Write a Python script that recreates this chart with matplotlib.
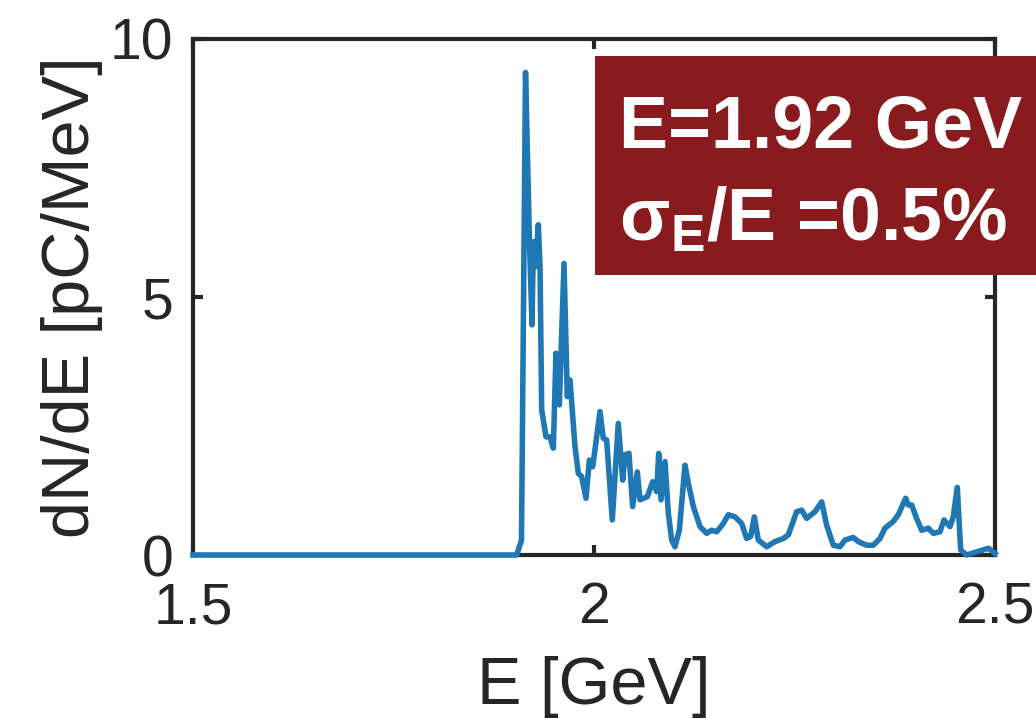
import matplotlib
matplotlib.use("Agg")
import matplotlib.pyplot as plt
from matplotlib.patches import Rectangle

plt.rcParams['font.family'] = ['Liberation Sans', 'DejaVu Sans']
plt.rcParams['mathtext.fontset'] = 'custom'
plt.rcParams['mathtext.rm'] = 'Liberation Sans:bold'
plt.rcParams['mathtext.bf'] = 'Liberation Sans:bold'
plt.rcParams['mathtext.it'] = 'Liberation Sans:bold'

energy_gev = [1.50, 1.9036, 1.9096, 1.9146, 1.9194, 1.9227, 1.9244, 1.9270, 1.9306, 1.9327,
              1.9348, 1.9402, 1.9451, 1.9493, 1.9526, 1.9568, 1.9626, 1.9667, 1.9701, 1.9763,
              1.9805, 1.9846, 1.9900, 1.9942, 1.9984, 2.0075, 2.0116, 2.0158, 2.0228, 2.0303,
              2.0358, 2.0387, 2.0436, 2.0482, 2.0540, 2.0574, 2.0665, 2.0732, 2.0782, 2.0807,
              2.0836, 2.0885, 2.0927, 2.0969, 2.1010, 2.1064, 2.1135, 2.1176, 2.1239, 2.1322,
              2.1405, 2.1467, 2.1530, 2.1612, 2.1675, 2.1758, 2.1842, 2.1904, 2.1954, 2.1999,
              2.2049, 2.2153, 2.2257, 2.2361, 2.2423, 2.2527, 2.2589, 2.2652, 2.2756, 2.2839,
              2.2901, 2.2984, 2.3067, 2.3130, 2.3233, 2.3296, 2.3400, 2.3483, 2.3566, 2.3628,
              2.3732, 2.3794, 2.3886, 2.3919, 2.3961, 2.4023, 2.4086, 2.4169, 2.4231, 2.4314,
              2.4364, 2.4439, 2.4480, 2.4530, 2.4572, 2.4646, 2.4771, 2.4854, 2.4917, 2.4979,
              2.5000]
dnde = [0.0, 0.0, 0.29, 9.35, 6.17, 4.46, 6.07, 5.59, 6.40, 5.59,
        2.81, 2.29, 2.29, 2.07, 3.91, 2.91, 5.65, 3.07, 3.39, 2.10,
        1.58, 1.52, 1.10, 1.84, 1.71, 2.78, 2.26, 2.23, 0.68, 2.55,
        1.45, 1.94, 1.97, 0.94, 1.61, 1.07, 1.13, 1.42, 1.23, 1.97,
        1.07, 1.81, 0.81, 0.29, 0.16, 0.48, 1.74, 1.39, 0.94, 0.55,
        0.42, 0.48, 0.45, 0.61, 0.78, 0.74, 0.61, 0.32, 0.36, 0.74,
        0.29, 0.16, 0.26, 0.32, 0.39, 0.84, 0.87, 0.71, 0.84, 1.03,
        0.58, 0.19, 0.16, 0.29, 0.34, 0.26, 0.19, 0.19, 0.32, 0.52,
        0.65, 0.78, 1.10, 0.97, 0.97, 0.71, 0.48, 0.52, 0.42, 0.45,
        0.68, 0.55, 0.74, 1.31, 0.10, 0.0, 0.06, 0.10, 0.13, 0.06,
        0.03]

xticks = [1.5, 2.0, 2.5]
xticklabels = ['1.5', '2', '2.5']
yticks = [0, 5, 10]
yticklabels = ['0', '5', '10']

fig = plt.figure(figsize=(10.36, 7.18), dpi=100)
ax = fig.add_axes([0.1863, 0.2270, 0.9604 - 0.1863, 0.9457 - 0.2270])

ax.plot(energy_gev, dnde, color='#1f77b4', lw=4, clip_on=False, zorder=3,
        solid_joinstyle='round')
ax.set_xlim(1.5, 2.5)
ax.set_ylim(0, 10)
ax.set_xticks(xticks)
ax.set_xticklabels(xticklabels)
ax.set_yticks(yticks)
ax.set_yticklabels(yticklabels)

dark = '#262626'
for s in ax.spines.values():
    s.set_linewidth(3)
    s.set_color(dark)
ax.tick_params(direction='in', length=7.5, width=3, color=dark, labelcolor=dark,
               labelsize=41, top=True, right=True)
ax.tick_params(axis='x', pad=19)
ax.tick_params(axis='y', pad=14)

ax.set_xlabel('E [GeV]', fontsize=48, color=dark)
ax.set_ylabel('dN/dE [pC/MeV]', fontsize=48, color=dark)
ax.xaxis.set_label_coords(0.5, -0.195)
ax.yaxis.set_label_coords(-0.112, 0.5)

fig.patches.append(Rectangle((595 / 1036, 1 - 275 / 718), (1036 - 595) / 1036, (275 - 56) / 718,
                             transform=fig.transFigure, facecolor='#891b1f', edgecolor='none',
                             zorder=5))
fig.text(619 / 1036, 1 - 148 / 718, 'E=1.92 GeV', color='white', fontsize=53,
         fontweight='bold', ha='left', va='baseline', zorder=6)
fig.text(619 / 1036, 1 - 240 / 718, 'σ$_{E}$/E =0.5%', color='white', fontsize=53,
         fontweight='bold', ha='left', va='baseline', zorder=6)

fig.savefig('out.png', dpi=100)
